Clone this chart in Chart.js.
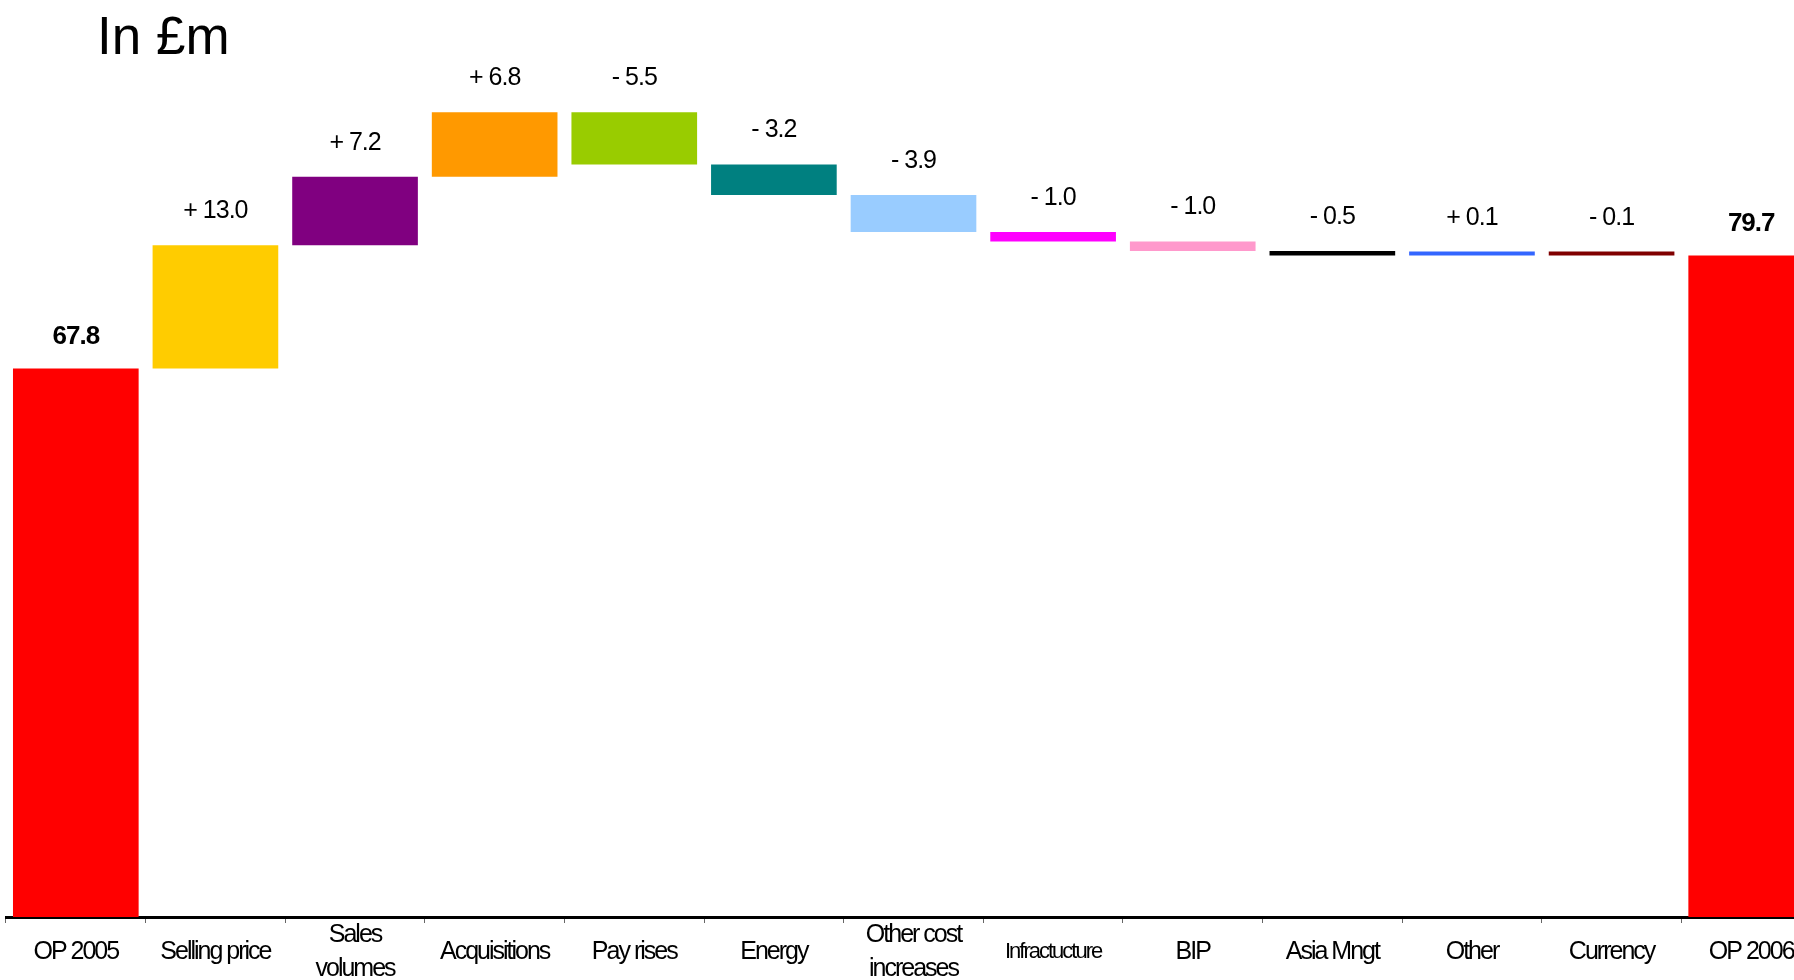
<!DOCTYPE html>
<html>
<head>
<meta charset="utf-8">
<title>Operating profit bridge</title>
<script src="https://cdn.jsdelivr.net/npm/chart.js@4.4.1/dist/chart.umd.min.js"></script>
<style>
  html, body { margin: 0; padding: 0; background: #fff; overflow: hidden; }
  #wrap { width: 1794px; height: 980px; overflow: hidden; position: relative; }
  #holder { position: absolute; left: 0; top: 0; width: 1821px; height: 1015px; }
</style>
</head>
<body>
<div id="wrap"><div id="holder"><canvas id="bridgeChart"></canvas></div></div>
<script>
const categories = ['OP 2005', 'Selling price', ['Sales', 'volumes'], 'Acquisitions', 'Pay rises', 'Energy',
    ['Other cost', 'increases'], 'Infractucture', 'BIP', 'Asia Mngt', 'Other', 'Currency', 'OP 2006'];
const openingValue = 67.8;
const changes = [13.0, 7.2, 6.8, -5.5, -3.2, -3.9, -1.0, -1.0, -0.5, 0.1, -0.1];
const closingValue = 79.7;
const barColors = ['#FF0000', '#FFCC00', '#800080', '#FF9900', '#99CC00', '#008080',
    '#99CCFF', '#FF00FF', '#FF99CC', '#000000', '#3366FF', '#800000', '#FF0000'];
const titleText = 'In £m';

const textFont = "'Liberation Sans Narrow', 'Arial Narrow', 'Liberation Sans', Arial, sans-serif";

// Build the floating [start, end] ranges of the bridge
const ranges = [[0, openingValue]];
const barLabels = [openingValue.toFixed(1)];
let running = openingValue;
changes.forEach(c => {
    const next = Math.round((running + c) * 10) / 10;
    ranges.push([running, next]);
    barLabels.push((c >= 0 ? '+ ' : '- ') + Math.abs(c).toFixed(1));
    running = next;
});
ranges.push([0, closingValue]);
barLabels.push(closingValue.toFixed(1));

// No narrow font installed, so tighten the letters a bit instead
const tightText = {
    id: 'tightText',
    beforeDraw(chart) {
        chart.ctx.letterSpacing = '-2px';
    }
};

// Draws the value above each bar and the title in the corner
const bridgeLabels = {
    id: 'bridgeLabels',
    afterDatasetsDraw(chart) {
        const ctx = chart.ctx;
        const meta = chart.getDatasetMeta(0);
        ctx.save();
        ctx.fillStyle = '#000';
        ctx.textAlign = 'center';
        ctx.textBaseline = 'middle';
        ctx.letterSpacing = '-1px';
        meta.data.forEach((bar, i) => {
            const isTotal = i === 0 || i === meta.data.length - 1;
            ctx.font = (isTotal ? 'bold 26px ' : '25px ') + textFont;
            const top = Math.min(bar.y, bar.base);
            ctx.fillText(barLabels[i], bar.x, top - (isTotal ? 32 : 34));
        });
        ctx.letterSpacing = '0px';
        ctx.font = '53px "Liberation Sans", Arial, sans-serif';
        ctx.textAlign = 'left';
        ctx.textBaseline = 'alphabetic';
        ctx.fillText(titleText, 97, 54);
        ctx.restore();
    }
};

new Chart(document.getElementById('bridgeChart'), {
    type: 'bar',
    data: {
        labels: categories,
        datasets: [{
            data: ranges,
            backgroundColor: barColors,
            borderWidth: 0,
            borderSkipped: false,
            barPercentage: 0.9,
            categoryPercentage: 1.0,
            minBarLength: 4
        }]
    },
    options: {
        responsive: true,
        maintainAspectRatio: false,
        animation: false,
        events: [],
        layout: { padding: { left: 6, right: 0, top: 63, bottom: 0 } },
        plugins: {
            legend: { display: false },
            tooltip: { enabled: false },
            title: { display: false }
        },
        scales: {
            x: {
                grid: {
                    display: true,
                    drawOnChartArea: false,
                    drawTicks: true,
                    tickLength: 6,
                    color: '#666',
                    lineWidth: 1
                },
                border: { display: true, color: '#000', width: 3 },
                ticks: {
                    color: '#000',
                    padding: 12,
                    maxRotation: 0,
                    autoSkip: false,
                    crossAlign: 'center',
                    font: context => ({
                        family: textFont,
                        size: context.index === 7 ? 22 : 25,
                        lineHeight: context.index === 7 ? 1.55 : 1.36
                    })
                }
            },
            y: {
                display: false,
                min: 10,
                max: 100
            }
        }
    },
    plugins: [tightText, bridgeLabels]
});
</script>
</body>
</html>
